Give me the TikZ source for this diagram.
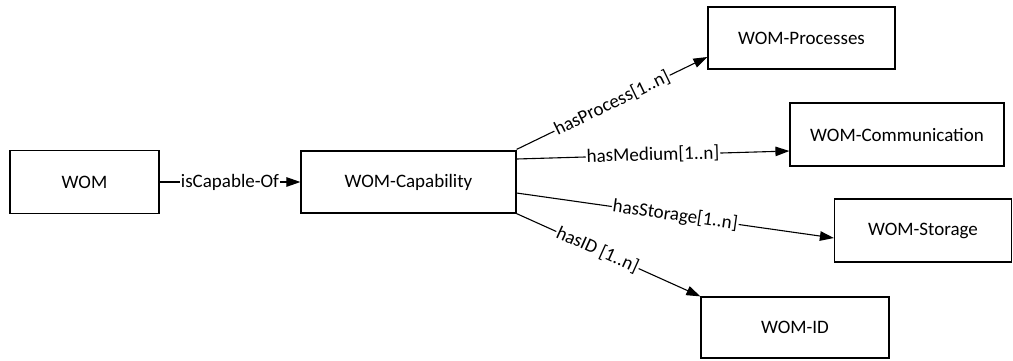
\documentclass[tikz,border=0pt]{standalone}
\usepackage{fontspec}
\setmainfont{Carlito}
\usetikzlibrary{arrows.meta}
\begin{document}
\begin{tikzpicture}[x=1pt,y=-1pt,
  box/.style={draw,line width=1.2pt,inner sep=0pt,font=\fontsize{19}{23}\selectfont},
  rel/.style={line width=1.1pt,-{Triangle[length=14pt,width=9.5pt]}},
  lbl/.style={fill=white,inner sep=1pt,font=\fontsize{19}{23}\selectfont}]
\useasboundingbox (0,0) rectangle (1013,360);
\node[box,minimum width=149pt,minimum height=63pt] (wom) at (84.5,182) {WOM};
\node[box,minimum width=215pt,minimum height=62pt] (cap) at (408.5,182) {WOM-Capability};
\node[box,minimum width=187pt,minimum height=62pt] (proc) at (801.5,38) {WOM-Processes};
\node[box,minimum width=214pt,minimum height=63pt] (comm) at (897,134.5) {WOM-Communication};
\node[box,minimum width=177pt,minimum height=63pt] (stor) at (923,230.5) {WOM-Storage};
\node[box,minimum width=188pt,minimum height=61pt] (wid) at (795,327.5) {WOM-ID};

\draw[rel] (wom.east) -- node[lbl] {isCapable-Of} (cap.west);
\draw[rel] ([yshift=1pt]cap.north east) -- node[lbl,sloped] {hasProcess[1..n]} ([yshift=-19pt]proc.west);
\draw[rel] ([yshift=23pt]cap.east) -- node[lbl,sloped] {hasMedium[1..n]} ([yshift=-16.5pt]comm.west);
\draw[rel] ([yshift=-11pt]cap.east) -- node[lbl,sloped] {hasStorage[1..n]} ([yshift=-7.5pt]stor.west);
\draw[rel] (cap.south east) -- node[lbl,sloped,pos=0.44] {hasID [1..n]} (wid.north west);
\end{tikzpicture}
\end{document}
